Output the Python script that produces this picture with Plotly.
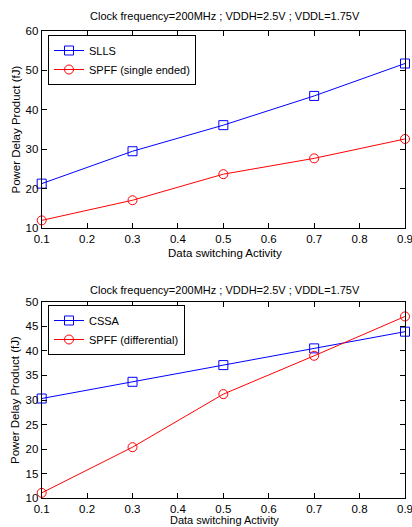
import plotly.graph_objects as go

x_vals = [0.1, 0.3, 0.5, 0.7, 0.9]
slls = [21.3, 29.5, 36.1, 43.5, 51.7]
spff_se = [12.0, 17.1, 23.7, 27.7, 32.6]
cssa = [30.3, 33.7, 37.1, 40.5, 43.9]
spff_diff = [11.1, 20.4, 31.2, 39.0, 47.0]
x_ticks = [0.1, 0.2, 0.3, 0.4, 0.5, 0.6, 0.7, 0.8, 0.9]
x_tick_labels = ["0.1", "0.2", "0.3", "0.4", "0.5", "0.6", "0.7", "0.8", "0.9"]

title_text = "Clock frequency=200MHz ; VDDH=2.5V ; VDDL=1.75V"
xlabel = "Data switching Activity"
ylabel = "Power Delay Product (fJ)"

font = dict(family="Liberation Sans, Arial, sans-serif", size=11.5, color="black")

fig = go.Figure()

def add(x, y, name, color, symbol, xa, ya, leg):
    fig.add_trace(go.Scatter(
        x=x, y=y, name=name, mode="lines+markers",
        line=dict(color=color, width=1),
        marker=dict(symbol=symbol, size=9, color=color,
                    line=dict(color=color, width=1)),
        xaxis=xa, yaxis=ya, legend=leg, cliponaxis=False))

add(x_vals, slls, "SLLS", "blue", "square-open", "x", "y", "legend")
add(x_vals, spff_se, "SPFF (single ended)", "red", "circle-open", "x", "y", "legend")
add(x_vals, cssa, "CSSA", "blue", "square-open", "x2", "y2", "legend2")
add(x_vals, spff_diff, "SPFF (differential)", "red", "circle-open", "x2", "y2", "legend2")

ax_common = dict(showgrid=False, zeroline=False, showline=True, linecolor="black",
                 linewidth=1, mirror="ticks", ticks="inside", ticklen=5,
                 tickcolor="black", tickfont=font, ticklabeloverflow="allow",
                 automargin=False)

W, H = 412, 527
xd = [41.7 / W, 405 / W]
yd_top = [1 - 228.3 / H, 1 - 30.7 / H]
yd_bot = [1 - 498.3 / H, 1 - 301.7 / H]

leg_common = dict(xanchor="left", yanchor="top", bgcolor="white", bordercolor="black",
                  borderwidth=1, font=dict(size=11), tracegroupgap=0, itemwidth=30)

def ann(text, x, y, angle=0, size=11.5):
    return dict(text=text, x=x, y=y, xref="paper", yref="paper", showarrow=False,
                font=dict(size=size), xanchor="center", yanchor="middle", textangle=angle)

fig.update_layout(
    width=W, height=H, margin=dict(l=0, r=0, t=0, b=0),
    paper_bgcolor="white", plot_bgcolor="white", font=font,
    xaxis=dict(domain=xd, range=[0.1, 0.9], tickvals=x_ticks, ticktext=x_tick_labels,
               anchor="y", **ax_common),
    yaxis=dict(domain=yd_top, range=[10, 60], dtick=10, anchor="x", **ax_common),
    xaxis2=dict(domain=xd, range=[0.1, 0.9], tickvals=x_ticks, ticktext=x_tick_labels,
                anchor="y2", **ax_common),
    yaxis2=dict(domain=yd_bot, range=[10, 50], dtick=5, anchor="x2", **ax_common),
    legend=dict(x=48 / W, y=1 - 35 / H, **leg_common),
    legend2=dict(x=48 / W, y=1 - 305 / H, **leg_common),
    showlegend=True,
    annotations=[
        ann(title_text, 0.545, 1 - 16 / H, size=11),
        ann(title_text, 0.545, 1 - 290 / H, size=11),
        ann(xlabel, 0.545, 1 - 253 / H, size=11.5),
        ann(xlabel, 0.545, 1 - 519.5 / H, size=11),
        ann(ylabel, 15 / W, (yd_top[0] + yd_top[1]) / 2, angle=-90),
        ann(ylabel, 15 / W, (yd_bot[0] + yd_bot[1]) / 2, angle=-90),
    ],
)

fig.write_html("out.html")
